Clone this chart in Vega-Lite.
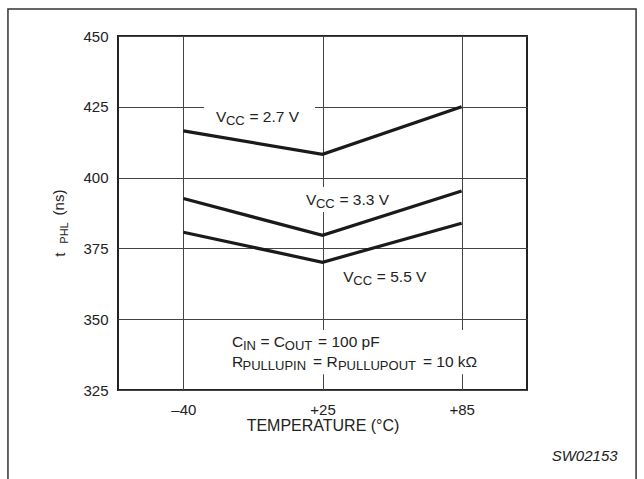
{
  "$schema": "https://vega.github.io/schema/vega-lite/v6.json",
  "width": 409,
  "height": 354,
  "autosize": {"type": "none"},
  "padding": {"left": 118, "top": 36, "right": 117, "bottom": 89},
  "background": "white",
  "config": {
    "font": "Liberation Sans",
    "view": {"stroke": "#222", "strokeWidth": 2},
    "text": {"font": "Liberation Sans", "color": "#222"}
  },
  "datasets": {
    "curves": [
      {"vcc": "2.7 V", "temperature": "–40", "tphl": 416.5},
      {"vcc": "2.7 V", "temperature": "+25", "tphl": 408.2},
      {"vcc": "2.7 V", "temperature": "+85", "tphl": 425.0},
      {"vcc": "3.3 V", "temperature": "–40", "tphl": 392.6},
      {"vcc": "3.3 V", "temperature": "+25", "tphl": 379.6},
      {"vcc": "3.3 V", "temperature": "+85", "tphl": 395.3},
      {"vcc": "5.5 V", "temperature": "–40", "tphl": 380.7},
      {"vcc": "5.5 V", "temperature": "+25", "tphl": 370.1},
      {"vcc": "5.5 V", "temperature": "+85", "tphl": 383.9}
    ],
    "labels": [
      {"vcc": "2.7 V", "rest": "= 2.7 V", "x": 0.234, "y": 419.6},
      {"vcc": "3.3 V", "rest": "= 3.3 V", "x": 0.881, "y": 390.3},
      {"vcc": "5.5 V", "rest": "= 5.5 V", "x": 1.150, "y": 363.0}
    ],
    "noteMain": [
      {"text": "C", "x": 0.349, "y": 340.36},
      {"text": "=", "x": 0.555, "y": 340.36},
      {"text": "C", "x": 0.650, "y": 340.36},
      {"text": "= 100 pF", "x": 0.968, "y": 340.36},
      {"text": "R", "x": 0.349, "y": 333.12},
      {"text": "=", "x": 0.932, "y": 333.12},
      {"text": "R", "x": 1.029, "y": 333.12},
      {"text": "= 10 kΩ", "x": 1.722, "y": 333.12}
    ],
    "noteSub": [
      {"text": "IN", "x": 0.428, "y": 339.30},
      {"text": "OUT", "x": 0.729, "y": 339.30},
      {"text": "PULLUPIN", "x": 0.425, "y": 332.06},
      {"text": "PULLUPOUT", "x": 1.111, "y": 332.06}
    ],
    "ytitleMain": [
      {"text": "t", "x": -0.851, "y": 372.78},
      {"text": "(ns)", "x": -0.855, "y": 391.21}
    ],
    "ytitleSub": [
      {"text": "PHL", "x": -0.827, "y": 380.44}
    ]
  },
  "resolve": {"scale": {"x": "independent"}, "axis": {"y": "independent"}},
  "layer": [
    {
      "data": {"values": [{}]},
      "mark": {"type": "rect", "fillOpacity": 0, "stroke": "#333", "strokeWidth": 1.5},
      "encoding": {
        "x": {"datum": -1.261, "type": "quantitative", "scale": {"domain": [-0.47, 2.47], "nice": false, "zero": false}, "axis": null},
        "x2": {"datum": 3.254},
        "y": {"datum": 459.5, "type": "quantitative", "scale": {"domain": [325, 450], "nice": false, "zero": false}, "axis": null},
        "y2": {"datum": 280}
      }
    },
    {
      "data": {"values": [{}]},
      "mark": {"type": "rect", "fill": "white", "strokeWidth": 0},
      "encoding": {
        "x": {"datum": 0.149, "type": "quantitative", "scale": {"domain": [-0.47, 2.47], "nice": false, "zero": false}, "axis": null},
        "x2": {"datum": 0.946},
        "y": {"datum": 425.7, "type": "quantitative", "scale": {"domain": [325, 450], "nice": false, "zero": false}, "axis": null},
        "y2": {"datum": 424.3}
      }
    },
    {
      "data": {"values": [{}]},
      "mark": {"type": "rect", "fill": "white", "strokeWidth": 0},
      "encoding": {
        "x": {"datum": 0.97, "type": "quantitative", "scale": {"domain": [-0.47, 2.47], "nice": false, "zero": false}, "axis": null},
        "x2": {"datum": 1.03},
        "y": {"datum": 396.7, "type": "quantitative", "scale": {"domain": [325, 450], "nice": false, "zero": false}, "axis": null},
        "y2": {"datum": 387.85}
      }
    },
    {
      "data": {"values": [{}]},
      "mark": {"type": "rect", "fill": "white", "strokeWidth": 0},
      "encoding": {
        "x": {"datum": 0.95, "type": "quantitative", "scale": {"domain": [-0.47, 2.47], "nice": false, "zero": false}, "axis": null},
        "x2": {"datum": 2.05},
        "y": {"datum": 346.2, "type": "quantitative", "scale": {"domain": [325, 450], "nice": false, "zero": false}, "axis": null},
        "y2": {"datum": 330.6}
      }
    },
    {
      "data": {"name": "curves"},
      "mark": {"type": "line", "color": "#1a1a1a", "strokeWidth": 3.2},
      "encoding": {
        "x": {
          "field": "temperature", "type": "ordinal", "sort": ["–40", "+25", "+85"],
          "scale": {"type": "point", "padding": 0.47},
          "axis": {
            "title": "TEMPERATURE (°C)", "labelAngle": 0, "labelFontSize": 15, "labelColor": "#222",
            "labelPadding": 12, "ticks": false, "domain": false,
            "grid": true, "gridColor": "#444", "gridWidth": 1,
            "titleFontSize": 16, "titleFontWeight": "normal", "titleColor": "#222",
            "titleBaseline": "alphabetic", "titleY": 40
          }
        },
        "y": {
          "field": "tphl", "type": "quantitative",
          "scale": {"domain": [325, 450], "nice": false, "zero": false},
          "axis": {
            "title": null, "values": [325, 350, 375, 400, 425, 450], "format": "d",
            "labelFontSize": 15, "labelColor": "#222", "labelPadding": 10,
            "ticks": false, "domain": false, "grid": true, "gridColor": "#444", "gridWidth": 1
          }
        },
        "detail": {"field": "vcc", "type": "nominal"}
      }
    },
    {
      "data": {"name": "labels"},
      "mark": {"type": "text", "text": "V", "align": "left", "baseline": "alphabetic", "fontSize": 15.5},
      "encoding": {
        "x": {"field": "x", "type": "quantitative", "scale": {"domain": [-0.47, 2.47], "nice": false, "zero": false}, "axis": null},
        "y": {"field": "y", "type": "quantitative", "scale": {"domain": [325, 450], "nice": false, "zero": false}, "axis": null}
      }
    },
    {
      "data": {"name": "labels"},
      "mark": {"type": "text", "text": "CC", "align": "left", "baseline": "alphabetic", "fontSize": 13, "dx": 10, "dy": 3},
      "encoding": {
        "x": {"field": "x", "type": "quantitative", "scale": {"domain": [-0.47, 2.47], "nice": false, "zero": false}, "axis": null},
        "y": {"field": "y", "type": "quantitative", "scale": {"domain": [325, 450], "nice": false, "zero": false}, "axis": null}
      }
    },
    {
      "data": {"name": "labels"},
      "mark": {"type": "text", "align": "left", "baseline": "alphabetic", "fontSize": 15.5, "dx": 33.5},
      "encoding": {
        "text": {"field": "rest"},
        "x": {"field": "x", "type": "quantitative", "scale": {"domain": [-0.47, 2.47], "nice": false, "zero": false}, "axis": null},
        "y": {"field": "y", "type": "quantitative", "scale": {"domain": [325, 450], "nice": false, "zero": false}, "axis": null}
      }
    },
    {
      "data": {"name": "noteMain"},
      "mark": {"type": "text", "align": "left", "baseline": "alphabetic", "fontSize": 15.5},
      "encoding": {
        "text": {"field": "text"},
        "x": {"field": "x", "type": "quantitative", "scale": {"domain": [-0.47, 2.47], "nice": false, "zero": false}, "axis": null},
        "y": {"field": "y", "type": "quantitative", "scale": {"domain": [325, 450], "nice": false, "zero": false}, "axis": null}
      }
    },
    {
      "data": {"name": "noteSub"},
      "mark": {"type": "text", "align": "left", "baseline": "alphabetic", "fontSize": 13},
      "encoding": {
        "text": {"field": "text"},
        "x": {"field": "x", "type": "quantitative", "scale": {"domain": [-0.47, 2.47], "nice": false, "zero": false}, "axis": null},
        "y": {"field": "y", "type": "quantitative", "scale": {"domain": [325, 450], "nice": false, "zero": false}, "axis": null}
      }
    },
    {
      "data": {"name": "ytitleMain"},
      "mark": {"type": "text", "align": "center", "baseline": "alphabetic", "fontSize": 15, "angle": 270},
      "encoding": {
        "text": {"field": "text"},
        "x": {"field": "x", "type": "quantitative", "scale": {"domain": [-0.47, 2.47], "nice": false, "zero": false}, "axis": null},
        "y": {"field": "y", "type": "quantitative", "scale": {"domain": [325, 450], "nice": false, "zero": false}, "axis": null}
      }
    },
    {
      "data": {"name": "ytitleSub"},
      "mark": {"type": "text", "align": "center", "baseline": "alphabetic", "fontSize": 11, "angle": 270},
      "encoding": {
        "text": {"field": "text"},
        "x": {"field": "x", "type": "quantitative", "scale": {"domain": [-0.47, 2.47], "nice": false, "zero": false}, "axis": null},
        "y": {"field": "y", "type": "quantitative", "scale": {"domain": [325, 450], "nice": false, "zero": false}, "axis": null}
      }
    },
    {
      "data": {"values": [{"code": "SW02153"}]},
      "mark": {"type": "text", "align": "right", "baseline": "alphabetic", "fontSize": 15, "fontStyle": "italic"},
      "encoding": {
        "text": {"field": "code"},
        "x": {"datum": 3.121, "type": "quantitative", "scale": {"domain": [-0.47, 2.47], "nice": false, "zero": false}, "axis": null},
        "y": {"datum": 300.0, "type": "quantitative", "scale": {"domain": [325, 450], "nice": false, "zero": false}, "axis": null}
      }
    }
  ]
}
